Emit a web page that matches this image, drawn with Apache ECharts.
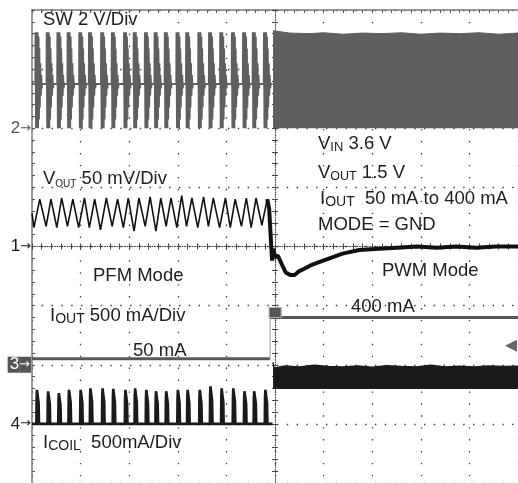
<!DOCTYPE html>
<html>
<head>
<meta charset="utf-8">
<script src="https://cdn.jsdelivr.net/npm/echarts@6.0.0/dist/echarts.min.js"></script>
<style>
html,body{margin:0;padding:0;background:#fff;}
#chart{width:518px;height:483px;}
</style>
</head>
<body>
<div id="chart"></div>
<script>
// ---------- channel settings (x in divisions from screen centre, y in divisions) ----------
const chOffset = [2, 0, -2, -3];        // ground marker of SW, VOUT, IOUT, ICOIL (div)
const chPerDiv = [2, 50, 500, 500];     // V/div, mV/div, mA/div, mA/div
const chMarker = ['2', '1', '3', '4'];
const toDiv = (ch, v) => chOffset[ch] + v / chPerDiv[ch];

// ---------- SW node (V) ----------
const swIdleV = 1.5;
const swBurstT = [-4.88,-4.65,-4.43,-4.22,-3.98,-3.78,-3.53,-3.31,-3.06,-2.86,-2.63,-2.43,-2.22,-1.98,-1.78,-1.53,-1.31,-1.08,-0.84,-0.61,-0.41,-0.18];
const swBurstDt = [-0.05,-0.046,-0.04,-0.036,-0.03,-0.026,-0.02,-0.016,-0.01,-0.006,0,0.004,0.01,0.014,0.022,0.03,0.04,0.05,0.06,0.07,0.08,0.09];
const swBurstV  = [1.5,3.25,3.25,0,0,3.25,3.25,0,0,3.25,3.25,0,0,3.1,0.3,2.7,0.7,2.2,1.1,1.8,1.35,1.5];
const swPwmT    = [-0.04,0.3,0.7,1.0,1.4,1.8,2.2,2.6,3.0,3.4,3.8,4.2,4.6,5.0];
const swPwmTopV = [3.3,3.22,3.2,3.23,3.18,3.22,3.2,3.23,3.18,3.22,3.2,3.23,3.18,3.22];
const swPwmLowV = 0;

// ---------- VOUT (mV, AC) ----------
const voutPfmT  = [-5.0,-4.96,-4.84,-4.71,-4.61,-4.49,-4.39,-4.27,-4.16,-4.04,-3.92,-3.82,-3.71,-3.59,-3.47,-3.35,-3.24,-3.12,-3.02,-2.90,-2.80,-2.67,-2.57,-2.45,-2.35,-2.24,-2.14,-2.02,-1.92,-1.82,-1.71,-1.59,-1.47,-1.37,-1.27,-1.14,-1.02,-0.92,-0.82,-0.69,-0.59,-0.49,-0.39,-0.27,-0.16];
const voutPfmMv = [28,16,40,17,40,16,41,17,40,16,41,16,40,14,41,17,40,16,41,13,41,17,42,13,41,17,41,16,43,17,41,16,42,17,41,16,41,16,40,17,41,16,41,18,40];
const voutPwmT  = [-0.16,-0.12,-0.08,-0.06,-0.04,0.00,0.06,0.14,0.22,0.31,0.41,0.49,0.59,0.73,0.92,1.12,1.39,1.73,2.14,2.51,2.92,3.33,3.73,4.14,4.55,5.00];
const voutPwmMv = [40,32,2,-12,-2,-8,-8,-15,-22,-24,-24,-21,-19,-16,-13,-10,-6,-3,-2,-1,0,-1,0,-1,0,0];

// ---------- IOUT (mA) ----------
const ioutT  = [-5, -0.1, 5];
const ioutMa = [50, 400];
const trigLevelMa = 160;

// ---------- ICOIL (mA) ----------
const icoilPulsePeak = [296,283,268,296,296,310,310,305,296,310,296,285,285,296,296,296,327,310,310,285,285,296];
const icoilPulseDt   = [-0.03,-0.025,-0.018,-0.005,0.008,0.016,0.024];
const icoilPulseFrac = [0,0.75,0.97,1,0.95,0.6,0];
const icoilPwmT    = [-0.04,-0.02,0.2,0.5,0.8,1.1,1.4,1.7,2.0,2.3,2.6,2.9,3.2,3.5,3.8,4.1,4.4,4.7,5.0];
const icoilPwmTopMa = [520,470,490,480,495,485,480,490,478,492,485,480,495,482,488,480,490,485,488];
const icoilPwmLowMa = 295;

// ---------- build series data ----------
const swPfmData = [[-5, toDiv(0, swIdleV)]];
swBurstT.forEach(t => swBurstDt.forEach((dt, k) => swPfmData.push([t + dt, toDiv(0, swBurstV[k])])));
swPfmData.push([-0.05, toDiv(0, swIdleV)]);
const swPwmData = swPwmT.map((t, i) => [t, toDiv(0, swPwmTopV[i])]);

const voutPfmData = voutPfmT.map((t, i) => [t, toDiv(1, voutPfmMv[i])]);
const voutPwmData = voutPwmT.map((t, i) => [t, toDiv(1, voutPwmMv[i])]);

const icoilPfmData = [[-5, toDiv(3, 0)]];
swBurstT.forEach((t, i) => icoilPulseDt.forEach((dt, k) => icoilPfmData.push([t + dt, toDiv(3, icoilPulsePeak[i] * icoilPulseFrac[k])])));
icoilPfmData.push([-0.05, toDiv(3, 0)]);
const icoilPwmData = icoilPwmT.map((t, i) => [t, toDiv(3, icoilPwmTopMa[i])]);

const FONT = '"Liberation Sans", Arial, Helvetica, sans-serif';
const TXT = '#1e1e1e';
const DOT = '#3a3a3a';
const FRAME = '#7a7a7a';

function T(x, y, text, subSize, subOff) {
  const so = subOff || 5;
  return {
    type: 'text', x: x, y: y, z: 100,
    style: {
      text: text, align: 'left', verticalAlign: 'middle',
      textAlign: 'left', textVerticalAlign: 'middle',
      font: '18.5px ' + FONT,
      rich: {
        m: { fontSize: 18.5, fontFamily: FONT, fill: TXT, color: TXT, lineHeight: 20 },
        s: { fontSize: subSize || 12, fontFamily: FONT, fill: TXT, color: TXT, lineHeight: 20 - 2 * so, verticalAlign: 'bottom' }
      }
    }
  };
}

const markerColors = ['#555', '#111', '#fff', '#222'];
const markerRich = {};
markerColors.forEach((c, i) => {
  markerRich['n' + i] = { color: c, fontSize: 17, fontFamily: FONT, height: 16, backgroundColor: i === 2 ? '#555' : 'transparent', padding: i === 2 ? [0, 0, 0, 2] : 0 };
  markerRich['a' + i] = { color: c, fontSize: 13, fontFamily: '"DejaVu Sans", sans-serif', height: 16, backgroundColor: i === 2 ? '#555' : 'transparent', padding: i === 2 ? [0, 1, 0, 0] : 0 };
});

const baseX = { type: 'value', min: -5, max: 5, interval: 1, axisLabel: { show: false } };
const baseY = { type: 'value', min: -4, max: 4, interval: 1 };

const option = {
  animation: false,
  backgroundColor: '#fff',
  grid: { left: 32, top: 10, width: 490, height: 477 },
  xAxis: [
    Object.assign({}, baseX, {
      position: 'bottom',
      axisLine: { show: true, onZero: true, onZeroAxisIndex: 0, lineStyle: { color: '#444', width: 1, type: [1, 1.5] } },
      axisTick: { show: true, inside: true, length: 3, lineStyle: { color: '#444' } },
      minorTick: { show: true, splitNumber: 5, length: 3, lineStyle: { color: '#444' } },
      splitLine: { show: true, lineStyle: { color: DOT, width: 1.3, type: [1.4, 10.52] } }
    }),
    Object.assign({}, baseX, {
      position: 'bottom',
      axisLine: { show: false, onZero: true, onZeroAxisIndex: 0 },
      axisTick: { show: true, inside: false, length: 3, lineStyle: { color: '#444' } },
      minorTick: { show: true, splitNumber: 5, length: 3, lineStyle: { color: '#444' } },
      splitLine: { show: false }
    }),
    Object.assign({}, baseX, {
      position: 'top',
      axisLine: { show: true, onZero: false, lineStyle: { color: FRAME, width: 1.5 } },
      axisTick: { show: true, inside: true, length: 3, lineStyle: { color: '#555' } },
      minorTick: { show: true, splitNumber: 5, length: 3, lineStyle: { color: '#555' } },
      splitLine: { show: false }
    })
  ],
  yAxis: [
    Object.assign({}, baseY, {
      position: 'left',
      axisLine: { show: true, onZero: false, lineStyle: { color: FRAME, width: 1.5 } },
      axisTick: { show: true, inside: true, length: 3, lineStyle: { color: '#555' } },
      minorTick: { show: true, splitNumber: 5, length: 3, lineStyle: { color: '#555' } },
      axisLabel: {
        show: true, margin: 1,
        formatter: function (v) {
          const i = chOffset.indexOf(v);
          if (i < 0) return '';
          return '{n' + i + '|' + chMarker[i] + '}{a' + i + '|→}';
        },
        rich: markerRich
      },
      splitLine: { show: true, lineStyle: { color: DOT, width: 1.3, type: [1.4, 8.4] } }
    }),
    Object.assign({}, baseY, {
      position: 'left',
      axisLine: { show: true, onZero: true, onZeroAxisIndex: 0, lineStyle: { color: '#444', width: 1, type: [1, 1.5] } },
      axisTick: { show: true, inside: true, length: 3, lineStyle: { color: '#444' } },
      minorTick: { show: true, splitNumber: 5, length: 3, lineStyle: { color: '#444' } },
      axisLabel: { show: false },
      splitLine: { show: false }
    }),
    Object.assign({}, baseY, {
      position: 'left',
      axisLine: { show: false, onZero: true, onZeroAxisIndex: 0 },
      axisTick: { show: true, inside: false, length: 3, lineStyle: { color: '#444' } },
      minorTick: { show: true, splitNumber: 5, length: 3, lineStyle: { color: '#444' } },
      axisLabel: { show: false },
      splitLine: { show: false }
    })
  ],
  series: [
    { name: 'SW PFM', type: 'line', data: swPfmData, symbol: 'none', z: 3,
      lineStyle: { color: '#5f5f5f', width: 2 } },
    { name: 'SW PWM', type: 'line', data: swPwmData, symbol: 'none', z: 3,
      lineStyle: { color: '#5f5f5f', width: 1 },
      areaStyle: { color: '#5f5f5f', opacity: 1, origin: toDiv(0, swPwmLowV) } },
    { name: 'VOUT PFM', type: 'line', data: voutPfmData, symbol: 'none', z: 4,
      lineStyle: { color: '#111', width: 1.6 } },
    { name: 'VOUT PWM', type: 'line', data: voutPwmData, symbol: 'none', z: 4,
      lineStyle: { color: '#111', width: 4 } },
    { name: 'IOUT low', type: 'line', symbol: 'none', z: 3,
      data: [[ioutT[0], toDiv(2, ioutMa[0])], [ioutT[1], toDiv(2, ioutMa[0])]],
      lineStyle: { color: '#585858', width: 3 } },
    { name: 'IOUT edge', type: 'line', symbol: 'none', z: 3,
      data: [[ioutT[1], toDiv(2, ioutMa[0])], [ioutT[1], toDiv(2, ioutMa[1])]],
      lineStyle: { color: '#9a9a9a', width: 1 } },
    { name: 'IOUT high', type: 'line', symbol: 'none', z: 3,
      data: [[ioutT[1], toDiv(2, ioutMa[1])], [ioutT[2], toDiv(2, ioutMa[1])]],
      lineStyle: { color: '#585858', width: 3 },
      markPoint: {
        label: { show: false },
        data: [
          { coord: [ioutT[1], toDiv(2, ioutMa[1])], symbol: 'rect', symbolSize: [12, 10], symbolOffset: [5, -5],
            itemStyle: { color: '#555', borderColor: '#aaa', borderWidth: 1 } },
          { coord: [ioutT[2], toDiv(2, trigLevelMa)], symbol: 'triangle', symbolSize: [12, 12], symbolRotate: 90, symbolOffset: [-7, 0],
            itemStyle: { color: '#666' } }
        ]
      } },
    { name: 'ICOIL PFM', type: 'line', data: icoilPfmData, symbol: 'none', z: 4,
      lineStyle: { color: '#1a1a1a', width: 2.6, join: 'miter' } },
    { name: 'ICOIL PWM', type: 'line', data: icoilPwmData, symbol: 'none', z: 4,
      lineStyle: { color: '#1a1a1a', width: 1.5 },
      areaStyle: { color: '#1a1a1a', opacity: 1, origin: toDiv(3, icoilPwmLowMa) } }
  ],
  graphic: [
    T(43, 20, '{m|SW 2 V/Div}'),
    T(43, 179, '{m|V}{s|OUT}{m| 50 mV/Div}', 10, 4),
    T(318, 144, '{m|V}{s|IN}{m| 3.6 V}', 13, 6.5),
    T(318, 173, '{m|V}{s|OUT}{m| 1.5 V}', 12.5, 6),
    T(320, 199, '{m|I}{s|OUT}{m|  50 mA to 400 mA}', 14, 4.5),
    T(318, 225, '{m|MODE = GND}'),
    T(93, 276, '{m|PFM Mode}'),
    T(382, 271, '{m|PWM Mode}'),
    T(351, 307, '{m|400 mA}'),
    T(50, 316, '{m|I}{s|OUT}{m| 500 mA/Div}', 14, 5.5),
    T(133, 351, '{m|50 mA}'),
    T(43, 443, '{m|I}{s|COIL}{m|  500mA/Div}', 14, 6.5)
  ]
};

const chart = echarts.init(document.getElementById('chart'), null, { renderer: 'canvas' });
chart.setOption(option);
</script>
</body>
</html>
